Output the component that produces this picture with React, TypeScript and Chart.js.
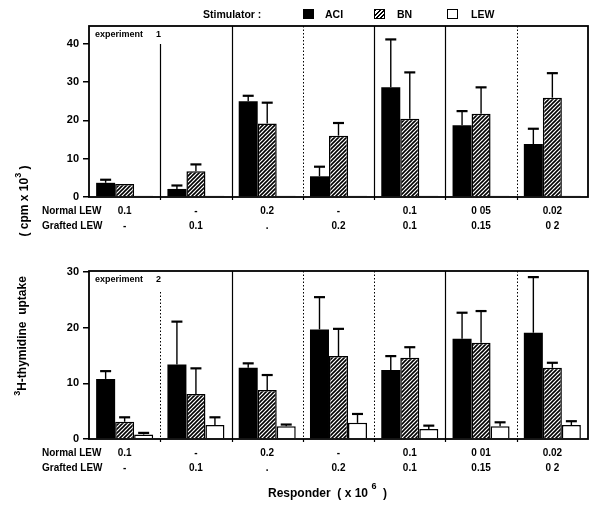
import React, { useEffect, useRef } from 'react';
import { Chart, registerables } from 'chart.js';

Chart.register(...registerables);

const FONT = '"Liberation Sans", Arial, sans-serif';

// ---------- data ----------
const seriesNames = ['ACI', 'BN', 'LEW'];
const rowTitles = ['Normal LEW', 'Grafted LEW'];

// experiment 1
const exp1Normal = ['0.1', '-', '0.2', '-', '0.1', '0 05', '0.02'];
const exp1Grafted = ['-', '0.1', '.', '0.2', '0.1', '0.15', '0 2'];
const exp1Aci = [3.7, 2.1, 25.0, 5.4, 28.6, 18.7, 13.8];
const exp1AciUpper = [4.5, 3.0, 26.4, 7.9, 41.1, 22.4, 17.8];
const exp1Bn = [3.4, 6.7, 19.2, 16.0, 20.4, 21.7, 25.9];
const exp1BnUpper = [null, 8.5, 24.6, 19.3, 32.5, 28.6, 32.3];
const exp1Lew = [0.3, 0.3, 0.3, 0.3, 0.3, 0.3, 0.3];
const exp1LewUpper = [null, null, null, null, null, null, null];
const exp1YTicks = [0, 10, 20, 30, 40];
const exp1YMax = 44.6;

// experiment 2
const exp2Normal = ['0.1', '-', '0.2', '-', '0.1', '0 01', '0.02'];
const exp2Grafted = ['-', '0.1', '.', '0.2', '0.1', '0.15', '0 2'];
const exp2Aci = [10.8, 13.4, 12.8, 19.7, 12.4, 18.0, 19.1];
const exp2AciUpper = [12.2, 21.1, 13.6, 25.5, 14.9, 22.7, 29.1];
const exp2Bn = [3.1, 8.1, 8.8, 14.9, 14.6, 17.3, 12.8];
const exp2BnUpper = [3.9, 12.7, 11.5, 19.8, 16.5, 23.0, 13.7];
const exp2Lew = [0.8, 2.5, 2.3, 2.9, 1.8, 2.3, 2.5];
const exp2LewUpper = [1.1, 3.9, 2.6, 4.5, 2.4, 3.0, 3.2];
const exp2YTicks = [0, 10, 20, 30];
const exp2YMax = 30.2;

// ---------- plugin ----------
const panelDecor = {
  id: 'panelDecor',
  afterDatasetsDraw(chart: any, _args: any, opts: any) {
    const { ctx, scales } = chart;
    const y = scales.y;
    ctx.save();
    ctx.strokeStyle = '#000';
    (opts.uppers || []).forEach((ups: any[], d: number) => {
      const meta = chart.getDatasetMeta(d);
      ups.forEach((u: any, i: number) => {
        if (u == null) return;
        const bar = meta.data[i];
        if (!bar) return;
        const cx = bar.x;
        const ey = y.getPixelForValue(u);
        ctx.lineWidth = 1.4;
        ctx.beginPath();
        ctx.moveTo(cx, bar.y);
        ctx.lineTo(cx, ey);
        ctx.stroke();
        ctx.lineWidth = 2.2;
        ctx.beginPath();
        ctx.moveTo(cx - 5.5, ey);
        ctx.lineTo(cx + 5.5, ey);
        ctx.stroke();
      });
    });
    ctx.restore();
  },
  afterDraw(chart: any, _args: any, opts: any) {
    const { ctx, chartArea: a, scales } = chart;
    const x = scales.x;
    const n = chart.data.labels.length;
    ctx.save();
    ctx.strokeStyle = '#000';
    for (let i = 0; i < n - 1; i++) {
      const bx = Math.round((x.getPixelForValue(i) + x.getPixelForValue(i + 1)) / 2) + 0.5;
      const solid = opts.separators[i] === 'solid';
      ctx.lineWidth = solid ? 1.2 : 1;
      ctx.setLineDash(solid ? [] : [1.5, 2]);
      const y0 = a.top + (i === 0 ? opts.firstOffset : 0);
      ctx.beginPath();
      ctx.moveTo(bx, y0);
      ctx.lineTo(bx, a.bottom);
      ctx.stroke();
      ctx.setLineDash([]);
      ctx.lineWidth = 1.2;
      ctx.beginPath();
      ctx.moveTo(bx, a.bottom);
      ctx.lineTo(bx, a.bottom + 3);
      ctx.stroke();
    }
    ctx.setLineDash([]);
    ctx.lineWidth = 1.8;
    ctx.strokeRect(a.left, a.top, a.right - a.left, a.bottom - a.top);

    ctx.fillStyle = '#000';
    ctx.textBaseline = 'middle';
    ctx.textAlign = 'left';
    ctx.font = `bold 9px ${FONT}`;
    ctx.fillText(opts.expWord, a.left + 6, a.top + 9);
    ctx.fillText(opts.expNum, a.left + 67, a.top + 9);

    ctx.font = `bold 10px ${FONT}`;
    const base = x.top + 7 + 7.5;
    ctx.fillText(rowTitles[0], 42, base);
    ctx.fillText(rowTitles[1], 42, base + 15);
    ctx.restore();
  },
};

function makeHatch(ctx: CanvasRenderingContext2D) {
  const pc = document.createElement('canvas');
  pc.width = 4;
  pc.height = 4;
  const g = pc.getContext('2d') as CanvasRenderingContext2D;
  g.fillStyle = '#fff';
  g.fillRect(0, 0, 4, 4);
  g.strokeStyle = '#000';
  g.lineWidth = 1.6;
  g.beginPath();
  g.moveTo(0, 4); g.lineTo(4, 0);
  g.moveTo(-1, 1); g.lineTo(1, -1);
  g.moveTo(3, 5); g.lineTo(5, 3);
  g.stroke();
  return ctx.createPattern(pc, 'repeat');
}

function buildChart(canvas: HTMLCanvasElement, p: any) {
  const ctx = canvas.getContext('2d') as CanvasRenderingContext2D;
  const hatch = makeHatch(ctx);
  return new Chart(canvas, {
    type: 'bar',
    data: {
      labels: p.normal.map((n: string, i: number) => [n, p.grafted[i]]),
      datasets: [
        { label: seriesNames[0], data: p.aci, backgroundColor: '#000', borderColor: '#000', borderWidth: 0 },
        { label: seriesNames[1], data: p.bn, backgroundColor: hatch as any, borderColor: '#000', borderWidth: 1.5 },
        { label: seriesNames[2], data: p.lew, backgroundColor: '#fff', borderColor: '#000', borderWidth: 1.5 },
      ],
    },
    options: {
      responsive: false,
      animation: false,
      events: [],
      datasets: { bar: { categoryPercentage: 0.8, barPercentage: 1 } },
      layout: { padding: p.padding },
      plugins: {
        legend: { display: false },
        tooltip: { enabled: false },
        title: { display: false },
        panelDecor: {
          uppers: p.uppers,
          separators: p.separators,
          firstOffset: p.firstOffset,
          expWord: 'experiment',
          expNum: p.expNum,
        },
      } as any,
      scales: {
        x: {
          type: 'category',
          grid: { display: false, drawTicks: false },
          border: { display: false },
          ticks: {
            color: '#000',
            font: { family: FONT, size: 10, weight: 'bold', lineHeight: 1.5 },
            padding: 7,
            maxRotation: 0,
            autoSkip: false,
          },
          afterFit: (s: any) => { s.height = 40; },
        },
        y: {
          min: 0,
          max: p.yMax,
          grid: { display: true, drawOnChartArea: false, drawTicks: true, tickLength: 6, color: '#000', lineWidth: 1.5 },
          border: { display: false },
          ticks: { color: '#000', font: { family: FONT, size: 11, weight: 'bold' }, padding: 4 },
          afterBuildTicks: (s: any) => { s.ticks = p.yTicks.map((v: number) => ({ value: v })); },
          afterFit: (s: any) => { s.width = 40; },
        },
      },
    } as any,
    plugins: [panelDecor as any],
  });
}

const hatchCss = 'repeating-linear-gradient(135deg, #000 0px, #000 1.4px, #fff 1.4px, #fff 3px)';

export default function App() {
  const topRef = useRef<HTMLCanvasElement>(null);
  const botRef = useRef<HTMLCanvasElement>(null);

  useEffect(() => {
    const c1 = buildChart(topRef.current as HTMLCanvasElement, {
      normal: exp1Normal, grafted: exp1Grafted,
      aci: exp1Aci, bn: exp1Bn, lew: exp1Lew,
      uppers: [exp1AciUpper, exp1BnUpper, exp1LewUpper],
      yMax: exp1YMax, yTicks: exp1YTicks,
      padding: { left: 49, right: 12, top: 26, bottom: 8 },
      separators: ['solid', 'solid', 'dotted', 'solid', 'solid', 'dotted'],
      firstOffset: 18,
      expNum: '1',
    });
    const c2 = buildChart(botRef.current as HTMLCanvasElement, {
      normal: exp2Normal, grafted: exp2Grafted,
      aci: exp2Aci, bn: exp2Bn, lew: exp2Lew,
      uppers: [exp2AciUpper, exp2BnUpper, exp2LewUpper],
      yMax: exp2YMax, yTicks: exp2YTicks,
      padding: { left: 49, right: 12, top: 21, bottom: 32 },
      separators: ['dotted', 'solid', 'dotted', 'dotted', 'solid', 'dotted'],
      firstOffset: 21,
      expNum: '2',
    });
    return () => { c1.destroy(); c2.destroy(); };
  }, []);

  const txt: React.CSSProperties = { position: 'absolute', whiteSpace: 'nowrap', lineHeight: '12px', fontSize: 10.5 };
  const box: React.CSSProperties = { position: 'absolute', top: 9, width: 11, height: 10, boxSizing: 'border-box', border: '1.5px solid #000' };

  return (
    <div style={{ position: 'absolute', left: 0, top: 0, width: 600, height: 511, background: '#fff', color: '#000', fontFamily: FONT, fontWeight: 'bold', overflow: 'hidden' }}>
      <canvas ref={topRef} width={600} height={245} style={{ position: 'absolute', left: 0, top: 0 }} />
      <canvas ref={botRef} width={600} height={261} style={{ position: 'absolute', left: 0, top: 250 }} />

      <span style={{ ...txt, left: 203, top: 8 }}>Stimulator :</span>
      <span style={{ ...box, left: 303, background: '#000' }} />
      <span style={{ ...txt, left: 325, top: 8 }}>{seriesNames[0]}</span>
      <span style={{ ...box, left: 374, background: hatchCss }} />
      <span style={{ ...txt, left: 397, top: 8 }}>{seriesNames[1]}</span>
      <span style={{ ...box, left: 447, background: '#fff' }} />
      <span style={{ ...txt, left: 471, top: 8 }}>{seriesNames[2]}</span>

      <div style={{ position: 'absolute', left: 22, top: 336, transform: 'translate(-50%, -50%) rotate(-90deg)', whiteSpace: 'nowrap', fontSize: 12, lineHeight: '14px' }}>
        <span style={{ fontSize: 9, position: 'relative', top: -6 }}>3</span>H-thymidine&nbsp; uptake
      </div>
      <div style={{ position: 'absolute', left: 24, top: 201, transform: 'translate(-50%, -50%) rotate(-90deg)', whiteSpace: 'nowrap', fontSize: 12, lineHeight: '14px' }}>
        ( cpm x 10<span style={{ fontSize: 9, position: 'relative', top: -7 }}>3</span> )
      </div>

      <div style={{ position: 'absolute', left: 268, top: 486, whiteSpace: 'nowrap', fontSize: 12, lineHeight: '14px' }}>
        Responder&nbsp; ( x 10 <span style={{ fontSize: 9, position: 'relative', top: -8 }}>6</span>&nbsp; )
      </div>
    </div>
  );
}
